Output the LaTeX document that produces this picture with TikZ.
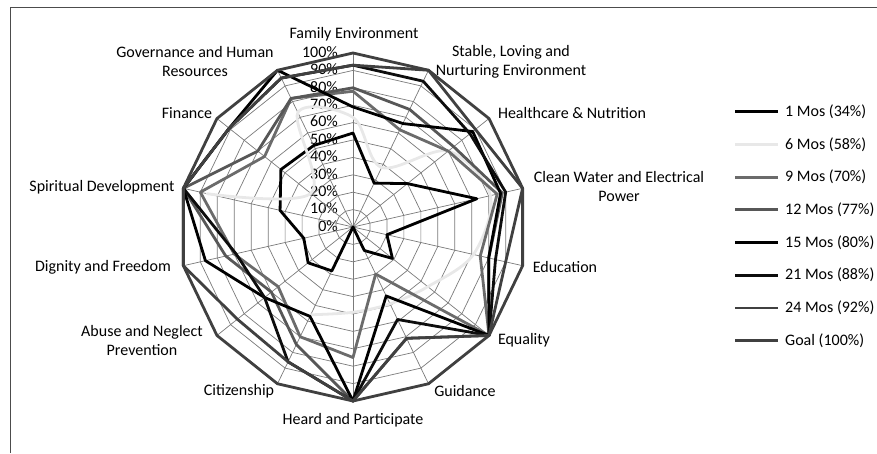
\documentclass[tikz,border=0pt]{standalone}
\usepackage{fontspec}
\setmainfont{Carlito}
\newcommand\radarpts[2]{%
  \foreach \v [count=\i from 0] in {#2} {\coordinate (#1-\i) at ({90-\i*360/14}:{\v*1.74});}}
\newcommand\radarpoly[2]{%
  \draw[#1] (#2-0) \foreach \j in {1,...,13} {-- (#2-\j)} -- cycle;}
\begin{document}
\begin{tikzpicture}[x=1pt,y=1pt,
  gridline/.style={draw=black!52, line width=0.7pt},
  frameline/.style={draw=black!70, line width=0.9pt},
  ser/.style={line width=2.8pt, line join=round, line cap=round},
  sA/.style={ser, draw=black},
  sB/.style={ser, draw=black!9},
  sC/.style={ser, draw=black!58},
  sD/.style={ser, draw=black!66},
  sE/.style={ser, draw=black},
  sF/.style={ser, draw=black!95},
  sG/.style={ser, draw=black!75},
  sH/.style={ser, draw=black!75},
  lab/.style={font=\fontsize{16}{19}\selectfont, align=center, inner sep=0pt},
  pct/.style={font=\fontsize{16}{18}\selectfont, anchor=east, inner sep=0pt},
  legtext/.style={font=\fontsize{16}{18}\selectfont, anchor=west, inner sep=0pt}]
\useasboundingbox (-353,-226) rectangle (524,227);
% frame (top and left edges of the chart area)
\coordinate (fr1) at (-343,-226);
\coordinate (fr2) at (-343,220);
\coordinate (fr3) at (524,220);
\draw[frameline] (fr1) -- (fr2) -- (fr3);
% percent labels
\foreach \k/\t in {0/0,1/10,2/20,3/30,4/40,5/50,6/60,7/70,8/80,9/90,10/100}
  \node[pct] (p\k) at (-15,\k*17.4+1) {\t\%};
% grid
\coordinate (c) at (0,0);
\foreach \k in {1,...,10} {
  \draw[gridline] (90:\k*17.4) \foreach \j in {1,...,13} {-- ({90-\j*360/14}:\k*17.4)} -- cycle;}
\foreach \j in {0,...,13} {\coordinate (ax\j) at ({90-\j*360/14}:174);
  \draw[gridline] (c) -- (ax\j);}
% data
\radarpts{A}{54,28,40,73,20,29,15,0,28,33,29,43,53,52}
\radarpts{B}{63,38,70,81,71,55,49,49,56,0,0,86,31,73}
\radarpts{C}{78,62,70,85,75,100,30,75,70,55,70,90,65,82}
\radarpts{D}{80,75,74,88,80,100,71,100,75,60,75,100,70,82}
\radarpts{E}{69,66,88,87,80,100,44,100,57,65,87,100,91,100}
\radarpts{F}{93,93,86,90,84,100,59,100,86,65,69,100,91,95}
\radarpts{G}{93,100,90,100,90,100,71,100,86,85,100,100,91,95}
\radarpts{H}{100,100,100,100,100,100,100,100,100,100,100,100,100,100}
\radarpoly{sA}{A}
\draw[sB] plot[smooth, tension=0.55] coordinates {(B-11) (B-12) (B-13) (B-0) (B-1) (B-2) (B-3) (B-4) (B-5) (B-6) (B-7) (B-8)};
\radarpoly{sC}{C}
\radarpoly{sD}{D}
\radarpoly{sE}{E}
\radarpoly{sF}{F}
\radarpoly{sG}{G}
\radarpoly{sH}{H}
% axis labels
\node[lab] (l0) at (1,193) {Family Environment};
\node[lab] (l1) at (158,165) {Stable, Loving and\\Nurturing Environment};
\node[lab] (l2) at (219,114) {Healthcare \& Nutrition};
\node[lab] (l3) at (266,41) {Clean Water and Electrical\\Power};
\node[lab] (l4) at (212,-40) {Education};
\node[lab] (l5) at (171,-113) {Equality};
\node[lab] (l6) at (112,-164) {Guidance};
\node[lab] (l7) at (0,-193) {Heard and Participate};
\node[lab] (l8) at (-114,-164) {Citizenship};
\node[lab] (l9) at (-211,-113) {Abuse and Neglect\\Prevention};
\node[lab] (l10) at (-250,-40) {Dignity and Freedom};
\node[lab] (l11) at (-251,40) {Spiritual Development};
\node[lab] (l12) at (-166,114) {Finance};
\node[lab] (l13) at (-158,165) {Governance and Human\\Resources};
% legend
\foreach \s/\t [count=\i from 0] in {sA/1 Mos (34\%),sB/6 Mos (58\%),sC/9 Mos (70\%),sD/12 Mos (77\%),sE/15 Mos (80\%),sF/21 Mos (88\%),sG/24 Mos (92\%),sH/Goal (100\%)} {
  \coordinate (la\i) at (382,115.3-\i*32.7);
  \coordinate (lb\i) at (425,115.3-\i*32.7);
  \draw[\s, line cap=butt] (la\i) -- (lb\i);
  \node[legtext] (lt\i) at (432,115.3-\i*32.7) {\t};}
\end{tikzpicture}
\end{document}
